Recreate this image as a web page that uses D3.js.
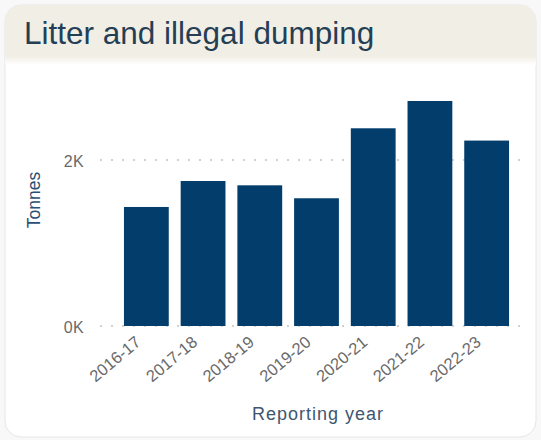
<!DOCTYPE html>
<html>
<head>
<meta charset="utf-8">
<script src="https://cdn.jsdelivr.net/npm/d3@7"></script>
<style>
  html, body { margin: 0; padding: 0; background: #f8f8f8; }
  svg { display: block; }
</style>
</head>
<body>
<svg id="chart" width="541" height="440"></svg>
<script>
const categories = ["2016-17", "2017-18", "2018-19", "2019-20", "2020-21", "2021-22", "2022-23"];
const values = [1434, 1747, 1695, 1539, 2382, 2711, 2234];
const yTicks = [0, 2000];
const yTickLabels = ["0K", "2K"];
const title = "Litter and illegal dumping";
const yTitle = "Tonnes";
const xTitle = "Reporting year";

const svg = d3.select("#chart");

// card
const defs = svg.append("defs");
const grad = defs.append("linearGradient").attr("id", "hdr").attr("x1", 0).attr("y1", 0).attr("x2", 0).attr("y2", 1);
grad.append("stop").attr("offset", "0%").attr("stop-color", "#f1eee5");
grad.append("stop").attr("offset", "85%").attr("stop-color", "#f1eee5");
grad.append("stop").attr("offset", "100%").attr("stop-color", "#ffffff");
defs.append("clipPath").attr("id", "cardclip")
  .append("rect").attr("x", 5).attr("y", 5).attr("width", 531).attr("height", 432).attr("rx", 16);

svg.append("rect").attr("x", 5).attr("y", 5).attr("width", 531).attr("height", 432).attr("rx", 16)
  .attr("fill", "#ffffff").attr("stroke", "#e6e6e6").attr("stroke-width", 1);
svg.append("rect").attr("x", 5).attr("y", 5).attr("width", 531).attr("height", 60)
  .attr("fill", "url(#hdr)").attr("clip-path", "url(#cardclip)");

svg.append("text").attr("x", 24).attr("y", 44)
  .attr("font-family", "Liberation Sans, Arial, sans-serif").attr("font-size", 31.5)
  .attr("fill", "#243f55").text(title);

// scales
const x = d3.scaleBand().domain(categories).range([118, 515]).paddingInner(0.21).paddingOuter(0.105);
const y = d3.scaleLinear().domain([0, 2000]).range([326, 160]);

// grid
svg.append("g").selectAll("line").data(yTicks).join("line")
  .attr("x1", 100).attr("x2", 523)
  .attr("y1", d => y(d)).attr("y2", d => y(d))
  .attr("stroke", "#c4c4c4").attr("stroke-width", 1.3).attr("stroke-dasharray", "2,9");

// y axis labels
const yAxis = d3.axisLeft(y).tickValues(yTicks).tickFormat((d, i) => yTickLabels[i]).tickSize(0).tickPadding(0);
const gy = svg.append("g").attr("transform", "translate(84,1)").call(yAxis);
gy.select(".domain").remove();
gy.selectAll("text").attr("font-family", "Liberation Sans, Arial, sans-serif").attr("font-size", 16)
  .attr("fill", "#6a6a6a").attr("letter-spacing", "0.3px");

// bars
svg.append("g").selectAll("rect").data(values).join("rect")
  .attr("x", (d, i) => x(categories[i]))
  .attr("width", x.bandwidth())
  .attr("y", d => y(d))
  .attr("height", d => y(0) - y(d))
  .attr("fill", "#023d6b");

// x axis labels
const xAxis = d3.axisBottom(x).tickSize(0).tickPadding(0);
const gx = svg.append("g").attr("transform", "translate(0,335)").call(xAxis);
gx.select(".domain").remove();
gx.selectAll("text")
  .attr("font-family", "Liberation Sans, Arial, sans-serif").attr("font-size", 16.5)
  .attr("fill", "#6a6a6a")
  .attr("text-anchor", "end")
  .attr("dy", "0.7em")
  .attr("transform", "translate(-12,0) rotate(-40)");

// axis titles
svg.append("text").attr("transform", "translate(40,200) rotate(-90)")
  .attr("text-anchor", "middle")
  .attr("font-family", "Liberation Sans, Arial, sans-serif").attr("font-size", 17.5)
  .attr("fill", "#2c4e72").text(yTitle);
svg.append("text").attr("x", 318).attr("y", 420)
  .attr("text-anchor", "middle")
  .attr("font-family", "Liberation Sans, Arial, sans-serif").attr("font-size", 18)
  .attr("letter-spacing", "1px")
  .attr("fill", "#3e5670").text(xTitle);
</script>
</body>
</html>
